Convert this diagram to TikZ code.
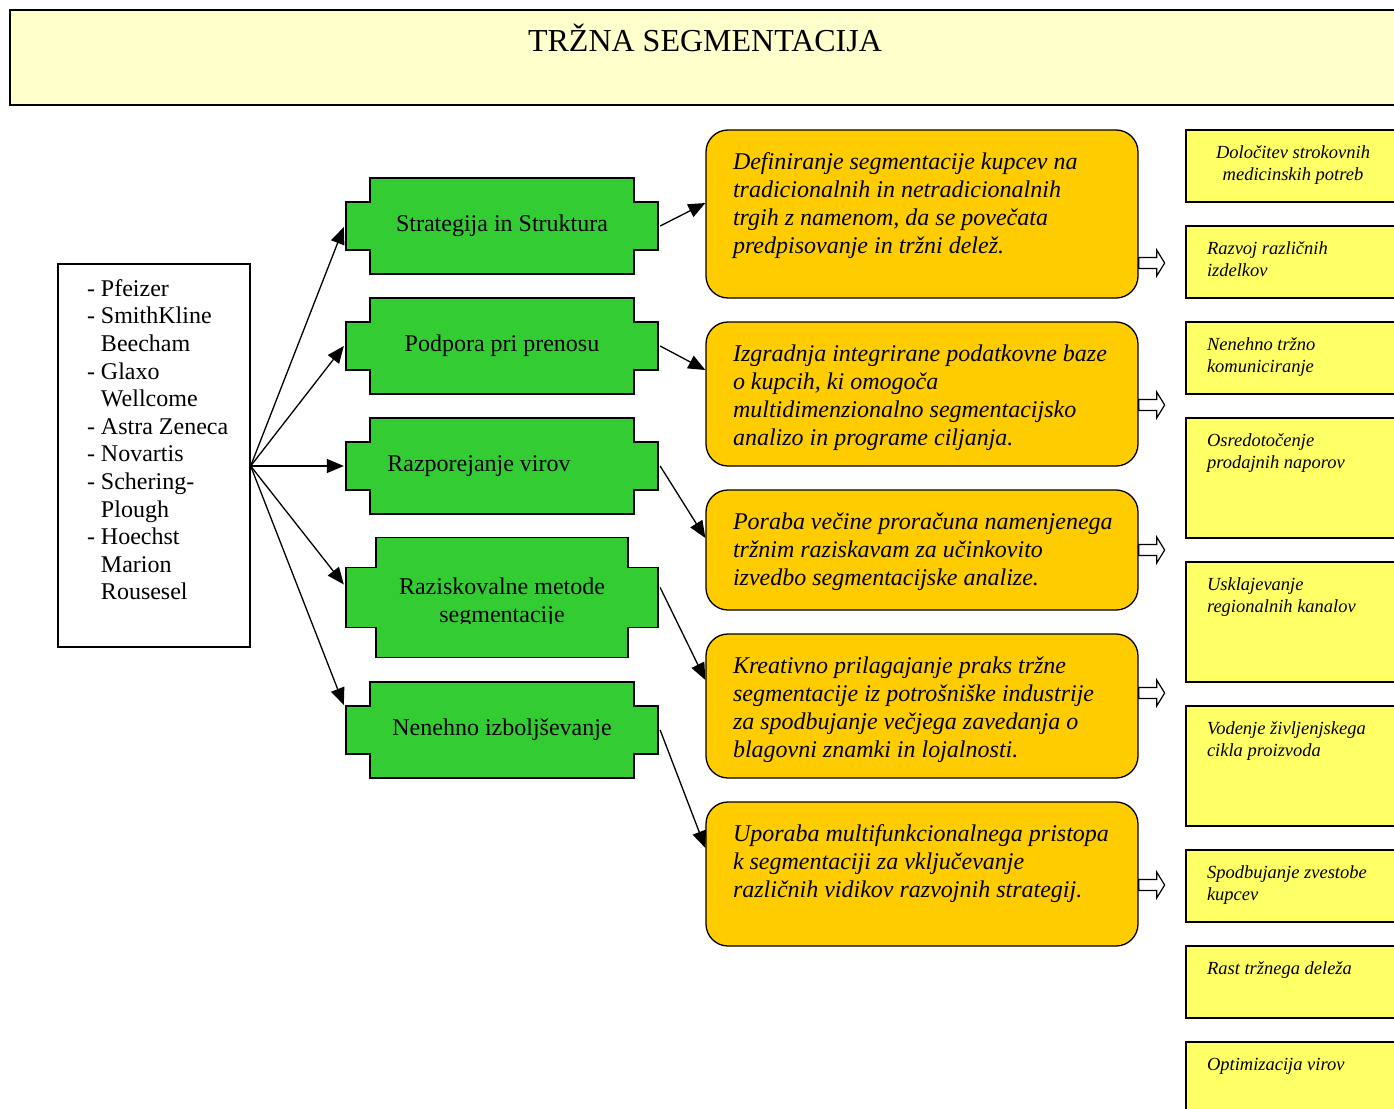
\documentclass[tikz,border=0pt]{standalone}
\usepackage{fontspec}
\setmainfont{Liberation Serif}
\usetikzlibrary{arrows.meta}
\definecolor{plaquegreen}{HTML}{33CC33}
\definecolor{segorange}{HTML}{FFCC00}
\definecolor{noteyellow}{HTML}{FFFF66}
\definecolor{titleyellow}{HTML}{FFFFCC}
\newcommand{\topbox}[3]{\parbox[c][#1][t]{#2}{#3}}
\newcommand{\ppc}[2]{([xshift=#1,yshift=#2]path picture bounding box.center)}

\begin{document}
\begin{tikzpicture}[
    x=1pt, y=-1pt,
    >={Triangle[length=17pt,width=14pt]},
    line width=1.3pt,
    plainfont/.style={font=\fontsize{24}{27.6}\selectfont},
    titlebox/.style={
        draw,
        fill=titleyellow,
        inner xsep=0pt,
        inner ysep=14pt,
        font=\fontsize{32}{36.8}\selectfont
    },
    listbox/.style={draw, fill=white, inner xsep=0pt, inner ysep=13pt, plainfont},
    plaque/.style n args={4}{
        minimum width=#1+3pt,
        minimum height=#4+3pt,
        inner sep=0pt,
        align=center,
        plainfont,
        path picture={
            \filldraw[fill=plaquegreen, line width=1.3pt]
                \ppc{-#3/2}{#4/2} -- \ppc{#3/2}{#4/2} -- \ppc{#3/2}{#2/2}
                -- \ppc{#1/2}{#2/2} -- \ppc{#1/2}{-#2/2} -- \ppc{#3/2}{-#2/2}
                -- \ppc{#3/2}{-#4/2} -- \ppc{-#3/2}{-#4/2} -- \ppc{-#3/2}{-#2/2}
                -- \ppc{-#1/2}{-#2/2} -- \ppc{-#1/2}{#2/2} -- \ppc{-#3/2}{#2/2} -- cycle;
        }
    },
    greenbox/.style={plaque={312pt}{48pt}{264pt}{96pt}},
    orangebox/.style={
        draw,
        fill=segorange,
        rounded corners=22pt,
        inner xsep=13.5pt,
        inner ysep=20pt,
        font=\itshape\fontsize{24}{28}\selectfont
    },
    notebox/.style={
        draw,
        fill=noteyellow,
        inner xsep=21pt,
        inner ysep=13pt,
        font=\itshape\fontsize{18.5}{22}\selectfont
    },
    link/.style={->},
    blockarrow/.pic={
        \filldraw[fill=white, line width=1.2pt]
            (0,-5.5) -- (18,-5.5) -- (18,-13) -- (26,0) -- (18,13) -- (18,5.5) -- (0,5.5) -- cycle;
    }
]

\path[use as bounding box] (0,0) rectangle (1394,1108);
\clip (0,0) rectangle (1394,1108);

\node[titlebox] (T) at (705,57.5) {\topbox{67pt}{1390pt}{\centering\strut TRŽNA SEGMENTACIJA}};

\node[listbox] (L) at (154,455.5) {\topbox{357pt}{192pt}{\raggedright\leftskip=29pt\strut
    - Pfeizer\\- SmithKline\\\phantom{- }Beecham\\- Glaxo\\\phantom{- }Wellcome\\- Astra Zeneca\\
    - Novartis\\- Schering-\\\phantom{- }Plough\\- Hoechst\\\phantom{- }Marion\\\phantom{- }Rousesel}};
\coordinate (hub) at ([yshift=-10.5pt]L.east);

\node[greenbox] (G1) at (502,226) {Strategija in Struktura};
\node[greenbox] (G2) at (502,346) {Podpora pri prenosu};
\node[greenbox] (G3) at (502,466) {\hspace*{-46pt}Razporejanje virov};
\node[plaque={312pt}{60pt}{252pt}{120pt}] (G4) at (502,597.5) {};
\begin{scope}
  \clip (346,537) rectangle (658,623.5);
  \node[plainfont, align=center] (G4text) at (502,602.5) {Raziskovalne metode\\segmentacije};
\end{scope}
\node[greenbox] (G5) at (502,730) {Nenehno izboljševanje};

\node[orangebox] (O1) at (922,214) {\topbox{128pt}{405pt}{\raggedright\leftskip=13.5pt\strut
    Definiranje segmentacije kupcev na\\tradicionalnih in netradicionalnih\\
    trgih z namenom, da se povečata\\predpisovanje in tržni delež.}};
\node[orangebox] (O2) at (922,394) {\topbox{104pt}{405pt}{\raggedright\leftskip=13.5pt\strut
    Izgradnja integrirane podatkovne baze\\o kupcih, ki omogoča\\
    multidimenzionalno segmentacijsko\\analizo in programe ciljanja.}};
\node[orangebox] (O3) at (922,550) {\topbox{80pt}{405pt}{\raggedright\leftskip=13.5pt\strut
    Poraba večine proračuna namenjenega\\tržnim raziskavam za učinkovito\\
    izvedbo segmentacijske analize.}};
\node[orangebox] (O4) at (922,706) {\topbox{104pt}{405pt}{\raggedright\leftskip=13.5pt\strut
    Kreativno prilagajanje praks tržne\\segmentacije iz potrošniške industrije\\
    za spodbujanje večjega zavedanja o\\blagovni znamki in lojalnosti.}};
\node[orangebox] (O5) at (922,874) {\topbox{104pt}{405pt}{\raggedright\leftskip=13.5pt\strut
    Uporaba multifunkcionalnega pristopa\\k segmentaciji za vključevanje\\
    različnih vidikov razvojnih strategij.}};

\node[notebox] (R1) at (1293,166) {\topbox{46pt}{172pt}{\centering\strut Določitev strokovnih\\medicinskih potreb}};
\node[notebox] (R2) at (1293,262) {\topbox{46pt}{172pt}{\raggedright\strut Razvoj različnih\\izdelkov}};
\node[notebox] (R3) at (1293,358) {\topbox{46pt}{172pt}{\raggedright\strut Nenehno tržno\\komuniciranje}};
\node[notebox] (R4) at (1293,478) {\topbox{94pt}{172pt}{\raggedright\strut Osredotočenje\\prodajnih naporov}};
\node[notebox] (R5) at (1293,622) {\topbox{94pt}{172pt}{\raggedright\strut Usklajevanje\\regionalnih kanalov}};
\node[notebox] (R6) at (1293,766) {\topbox{94pt}{172pt}{\raggedright\strut Vodenje življenjskega\\cikla proizvoda}};
\node[notebox] (R7) at (1293,886) {\topbox{46pt}{172pt}{\raggedright\strut Spodbujanje zvestobe\\kupcev}};
\node[notebox] (R8) at (1293,982) {\topbox{46pt}{172pt}{\raggedright\strut Rast tržnega deleža}};
\node[notebox] (R9) at (1293,1078) {\topbox{46pt}{172pt}{\raggedright\strut Optimizacija virov}};

\draw[link] (hub) -- ([yshift=-1pt]G1.west);
\draw[link] (hub) -- (G2.west);
\draw[link] (hub) -- (G3.west);
\draw[link] (hub) -- ([yshift=13pt]G4.west);
\draw[link] (hub) -- ([yshift=25pt]G5.west);

\draw[link] (G1.east) -- ([yshift=11pt]O1.west);
\draw[link] (G2.east) -- ([yshift=24pt]O2.west);
\draw[link] (G3.east) -- ([yshift=12pt]O3.west);
\draw[link] ([yshift=10pt]G4.east) -- ([yshift=26pt]O4.west);
\draw[link] (G5.east) -- ([yshift=26pt]O5.west);

\pic at ([yshift=-49pt]O1.east) {blockarrow};
\pic at ([yshift=-11pt]O2.east) {blockarrow};
\pic at (O3.east) {blockarrow};
\pic at ([yshift=13pt]O4.east) {blockarrow};
\pic at ([yshift=-11pt]O5.east) {blockarrow};

\end{tikzpicture}
\end{document}
